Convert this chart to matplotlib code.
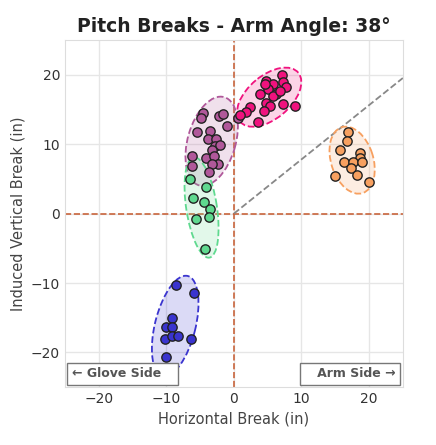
import numpy as np
import matplotlib.pyplot as plt
from matplotlib.patches import Ellipse

arm_angle = 38

pink_x = [4.8, 5.8, 7.1, 7.2, 7.7, 5.1, 6.3, 3.8, 5.8, 4.8, 5.3, 4.4, 2.4, 1.8, 0.9, 3.5, 7.3, 9.0, 6.8, 4.6]
pink_y = [19.1, 18.6, 19.9, 18.9, 18.2, 17.9, 17.2, 17.2, 17.0, 16.0, 15.5, 14.8, 15.4, 14.7, 14.2, 13.2, 15.8, 15.5, 17.7, 18.6]
purple_x = [-4.6, -4.8, -2.2, -1.6, -1.0, -5.4, -3.5, -3.8, -2.6, -2.8, -2.1, -3.3, -6.2, -4.1, -3.0, -6.2, -2.3, -3.2, -3.7, 0.6]
purple_y = [14.5, 13.7, 14.1, 14.4, 12.6, 11.7, 11.9, 10.7, 10.8, 9.7, 9.9, 9.1, 8.3, 8.0, 8.3, 6.8, 7.1, 7.1, 6.0, 13.7]
green_x = [-6.5, -4.2, -6.0, -4.4, -3.6, -3.7, -5.6, -4.3]
green_y = [5.0, 3.9, 2.2, 1.7, 0.6, -0.5, -0.8, -5.1]
orange_x = [16.9, 16.7, 15.7, 18.6, 18.7, 16.3, 17.6, 18.9, 17.3, 18.2, 15.0, 20.0]
orange_y = [11.7, 10.5, 9.2, 8.7, 8.0, 7.4, 7.4, 7.4, 6.6, 5.6, 5.4, 4.5]
blue_x = [-8.5, -5.9, -9.1, -10.1, -9.2, -10.2, -9.2, -8.2, -6.4, -10.1]
blue_y = [-10.3, -11.5, -15.1, -16.4, -16.4, -18.1, -17.7, -17.7, -18.0, -20.6]

groups = [
  (purple_x, purple_y, "#b0589a"),
  (pink_x, pink_y, "#f0127e"),
  (green_x, green_y, "#5fd98f"),
  (orange_x, orange_y, "#f7a060"),
  (blue_x, blue_y, "#3a34cf"),
]


def add_ellipse(ax, x, y, color, n_std=2.3):
  x = np.asarray(x); y = np.asarray(y)
  cov = np.cov(x, y)
  vals, vecs = np.linalg.eigh(cov)
  order = vals.argsort()[::-1]
  vals, vecs = vals[order], vecs[:, order]
  angle = np.degrees(np.arctan2(vecs[1, 0], vecs[0, 0]))
  w, h = 2 * n_std * np.sqrt(vals)
  ax.add_patch(Ellipse((x.mean(), y.mean()), w, h, angle=angle, facecolor=color, alpha=0.18, edgecolor="none", zorder=2))
  ax.add_patch(Ellipse((x.mean(), y.mean()), w, h, angle=angle, facecolor="none", edgecolor=color, linestyle="--", linewidth=1.3, zorder=2))


fig = plt.figure(figsize=(4.36, 4.45), dpi=100)
ax = fig.add_axes([0.149, 0.130, 0.775, 0.78])

for x, y, c in groups:
  add_ellipse(ax, x, y, c)
  ax.scatter(x, y, s=45, color=c, edgecolor="#222222", linewidth=1.0, zorder=3)

ax.axhline(0, color="#c8643c", linestyle="--", linewidth=1.2, zorder=1)
ax.axvline(0, color="#c8643c", linestyle="--", linewidth=1.2, zorder=1)
xs = np.array([0, 25])
ax.plot(xs, xs * np.tan(np.radians(arm_angle)), color="#888888", linestyle="--", linewidth=1.3, zorder=1)

ax.set_xlim(-25, 25)
ax.set_ylim(-25, 25)
ax.set_xticks([-20, -10, 0, 10, 20])
ax.set_yticks([-20, -10, 0, 10, 20])
ax.grid(color="#e6e6e6", linewidth=1)
ax.set_axisbelow(True)
for s in ax.spines.values():
  s.set_color("#dddddd")
ax.tick_params(length=0, labelsize=10, colors="#333333")
ax.set_xlabel("Horizontal Break (in)", fontsize=10.5, color="#444444")
ax.set_ylabel("Induced Vertical Break (in)", fontsize=10.5, color="#444444")
ax.set_title("Pitch Breaks - Arm Angle: 38°", fontsize=13.5, fontweight="bold", color="#222222")

box = dict(boxstyle="square,pad=0.35", facecolor="white", edgecolor="#777777", linewidth=1)
ax.text(0.02, 0.02, "← Glove Side   ", transform=ax.transAxes, fontsize=9, fontweight="bold", color="#555555", ha="left", va="bottom", bbox=box, zorder=5)
ax.text(0.98, 0.02, "   Arm Side →", transform=ax.transAxes, fontsize=9, fontweight="bold", color="#555555", ha="right", va="bottom", bbox=box, zorder=5)

fig.savefig("out.png", dpi=100)
